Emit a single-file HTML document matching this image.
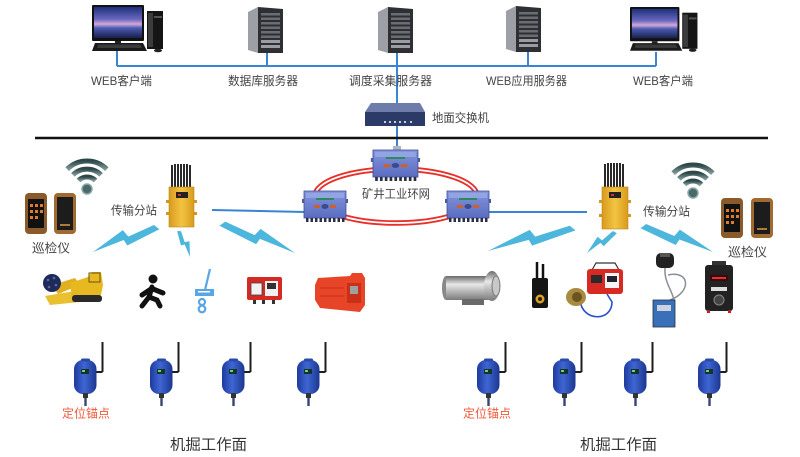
<!DOCTYPE html>
<html>
<head>
<meta charset="utf-8">
<style>
html,body{margin:0;padding:0;background:#fff;}
svg{display:block;}
text{font-family:"Liberation Sans","Noto Sans CJK SC",sans-serif;}
</style>
</head>
<body>
<svg width="800" height="457" viewBox="0 0 800 457" xmlns="http://www.w3.org/2000/svg">
<defs>
  <linearGradient id="scr" x1="0" y1="0" x2="0" y2="1">
    <stop offset="0" stop-color="#1d2f7a"/>
    <stop offset="0.4" stop-color="#6a68c0"/>
    <stop offset="0.55" stop-color="#d4a8d8"/>
    <stop offset="0.68" stop-color="#4a5ab0"/>
    <stop offset="1" stop-color="#18204a"/>
  </linearGradient>
  <linearGradient id="ylw" x1="0" y1="0" x2="1" y2="0">
    <stop offset="0" stop-color="#d99a1e"/>
    <stop offset="0.5" stop-color="#f3c442"/>
    <stop offset="1" stop-color="#d99a1e"/>
  </linearGradient>
  <linearGradient id="nodeG" x1="0" y1="0" x2="0" y2="1">
    <stop offset="0" stop-color="#8496dc"/>
    <stop offset="1" stop-color="#5a6cc0"/>
  </linearGradient>
  <linearGradient id="anc" x1="0" y1="0" x2="1" y2="0">
    <stop offset="0" stop-color="#1e3a9c"/>
    <stop offset="0.45" stop-color="#3f66d4"/>
    <stop offset="1" stop-color="#1c3690"/>
  </linearGradient>
  <linearGradient id="wifi" x1="0" y1="0" x2="0" y2="1">
    <stop offset="0" stop-color="#2e4848"/>
    <stop offset="1" stop-color="#7c9898"/>
  </linearGradient>
  <linearGradient id="silver" x1="0" y1="0" x2="0" y2="1">
    <stop offset="0" stop-color="#6a6a6a"/>
    <stop offset="0.35" stop-color="#e8e8e8"/>
    <stop offset="1" stop-color="#7a7a7a"/>
  </linearGradient>
  <polygon id="bolt" points="-2,3 3,-3 44,-1.5 48,-9.5 100,0 52,0 50,6.4" fill="#4cb6dc"/>

  <g id="computer">
    <rect x="0" y="0" width="52" height="36" rx="1" fill="#111"/>
    <rect x="2" y="2" width="48" height="31" fill="url(#scr)"/>
    <rect x="23" y="36" width="6" height="3" fill="#222"/>
    <polygon points="3,38 51,38 55,46 0,46" fill="#1b1b1b"/>
    <polygon points="6,39.5 48,39.5 50,43 5,43" fill="#3a3a3a"/>
    <rect x="55" y="6" width="16" height="38" fill="#151515"/>
    <rect x="56" y="8" width="5" height="34" fill="#3c3c3c"/>
    <rect x="62" y="11" width="8" height="2" fill="#555"/>
    <ellipse cx="66" cy="45.5" rx="4" ry="1.8" fill="#222"/>
  </g>

  <g id="server">
    <polygon points="0,5 10,0 10,46 0,43" fill="#9ca0a6"/>
    <polygon points="10,0 35,2 35,46 10,46" fill="#2d2f33"/>
    <rect x="13" y="6" width="19" height="2.5" fill="#6a6e74"/>
    <rect x="13" y="10.5" width="19" height="2.5" fill="#6a6e74"/>
    <rect x="13" y="15" width="19" height="2.5" fill="#6a6e74"/>
    <rect x="13" y="19.5" width="19" height="2.5" fill="#6a6e74"/>
    <rect x="13" y="24" width="19" height="2.5" fill="#6a6e74"/>
    <rect x="13" y="28.5" width="19" height="2.5" fill="#6a6e74"/>
    <rect x="13" y="33" width="19" height="3" fill="#9a9ea4"/>
    <rect x="13" y="38" width="19" height="3" fill="#9a9ea4"/>
  </g>

  <g id="node">
    <rect x="0" y="0" width="42" height="27" fill="url(#nodeG)" stroke="#3e4f98" stroke-width="0.8"/>
    <rect x="2" y="2" width="38" height="5" fill="#93a4e2"/>
    <rect x="12" y="7" width="18" height="2" fill="#2a8a5a"/>
    <rect x="10" y="14" width="6" height="3" fill="#d0602a"/>
    <rect x="26" y="14" width="6" height="3" fill="#d0602a"/>
    <ellipse cx="21" cy="15.5" rx="3.5" ry="2.5" fill="#3a4a8a"/>
    <rect x="-2" y="8" width="2" height="4" fill="#4a5aa0"/>
    <rect x="42" y="8" width="2" height="4" fill="#4a5aa0"/>
    <g fill="#2a2e44">
      <rect x="2" y="27" width="2.5" height="4"/><rect x="6.5" y="27" width="2.5" height="4"/>
      <rect x="11" y="27" width="2.5" height="4"/><rect x="15.5" y="27" width="2.5" height="4"/>
      <rect x="20" y="27" width="2.5" height="4"/><rect x="24.5" y="27" width="2.5" height="4"/>
      <rect x="29" y="27" width="2.5" height="4"/><rect x="33.5" y="27" width="2.5" height="4"/>
      <rect x="38" y="27" width="2.5" height="4"/>
    </g>
  </g>

  <g id="anchor">
    <line x1="28.5" y1="-18" x2="28.5" y2="12" stroke="#1e1e1e" stroke-width="2"/>
    <line x1="28.5" y1="12" x2="21" y2="12" stroke="#1e1e1e" stroke-width="2"/>
    <rect x="0" y="0" width="22.5" height="34" rx="9" fill="url(#anc)"/>
    <rect x="7" y="-1.5" width="9" height="3" rx="1.5" fill="#2a4aa8"/>
    <rect x="7" y="9" width="8" height="5" fill="#16352a"/>
    <rect x="8" y="10" width="3" height="2" fill="#6ad07a"/>
    <rect x="9" y="33" width="5" height="5" fill="#333"/>
    <rect x="10.3" y="38" width="2.4" height="8" fill="#3a4470"/>
  </g>

  <g id="wifiIcon" fill="none" stroke="url(#wifi)" stroke-width="5">
    <path d="M -19.8,-19.8 A 28 28 0 0 1 19.8,-19.8"/>
    <path d="M -14.1,-14.1 A 20 20 0 0 1 14.1,-14.1"/>
    <path d="M -8.5,-8.5 A 12 12 0 0 1 8.5,-8.5" />
    <circle cx="0" cy="0" r="5" fill="#4a6a6a" stroke="#8aa" stroke-width="1.5"/>
  </g>
</defs>

<!-- top network line -->
<g stroke="#3a84d4" stroke-width="2" fill="none">
  <line x1="117" y1="66" x2="656" y2="66"/>
  <line x1="117" y1="50" x2="117" y2="66"/>
  <line x1="267" y1="52" x2="267" y2="66"/>
  <line x1="397" y1="52" x2="397" y2="104"/>
  <line x1="528" y1="50" x2="528" y2="66"/>
  <line x1="656" y1="52" x2="656" y2="66"/>
  <line x1="397" y1="126" x2="397" y2="150"/>
  <line x1="212" y1="210" x2="305" y2="212"/>
  <line x1="488" y1="212" x2="587" y2="212"/>
</g>

<!-- computers & servers -->
<use href="#computer" x="92" y="5"/>
<g transform="translate(630,7) scale(0.95)"><use href="#computer"/></g>
<use href="#server" x="248" y="7"/>
<use href="#server" x="378" y="7"/>
<use href="#server" x="506" y="6"/>

<!-- top labels -->
<g fill="#444" font-size="12">
  <text x="91" y="85" textLength="61" lengthAdjust="spacingAndGlyphs">WEB客户端</text>
  <text x="228" y="85" textLength="70" lengthAdjust="spacingAndGlyphs">数据库服务器</text>
  <text x="349" y="85" textLength="83" lengthAdjust="spacingAndGlyphs">调度采集服务器</text>
  <text x="486" y="85" textLength="81" lengthAdjust="spacingAndGlyphs">WEB应用服务器</text>
  <text x="633" y="85" textLength="60" lengthAdjust="spacingAndGlyphs">WEB客户端</text>
  <text x="432" y="122" textLength="57" lengthAdjust="spacingAndGlyphs">地面交换机</text>
</g>

<!-- switch -->
<polygon points="371,103 420,103 425,112 365,112" fill="#6d7caa"/>
<rect x="365" y="112" width="60" height="14" fill="#2b3a66"/>
<g fill="#c8d0e0">
  <rect x="384" y="121" width="2" height="2"/><rect x="389" y="121" width="2" height="2"/>
  <rect x="394" y="121" width="2" height="2"/><rect x="399" y="121" width="2" height="2"/>
  <rect x="404" y="121" width="2" height="2"/><rect x="410" y="121" width="2" height="2"/>
</g>

<!-- black divider -->
<line x1="35" y1="138" x2="768" y2="138" stroke="#111" stroke-width="2.5"/>

<!-- ring -->
<ellipse cx="396" cy="196" rx="81" ry="27" fill="none" stroke="#e8302a" stroke-width="5.5"/>
<ellipse cx="396" cy="196" rx="81" ry="27" fill="none" stroke="#fff" stroke-width="1.8"/>
<rect x="393" y="146" width="8" height="4" fill="#b0b4bc"/>
<g transform="translate(373,150) scale(1.07,1)"><use href="#node"/></g>
<use href="#node" x="304" y="191"/>
<use href="#node" x="447" y="191"/>
<text x="362" y="198" fill="#444" font-size="12" textLength="68" lengthAdjust="spacingAndGlyphs">矿井工业环网</text>

<!-- stations -->
<g stroke="#111" stroke-width="1.8">
  <line x1="172" y1="165" x2="172" y2="188"/><line x1="175" y1="164" x2="175" y2="188"/>
  <line x1="178" y1="164" x2="178" y2="188"/><line x1="181" y1="164" x2="181" y2="188"/>
  <line x1="184" y1="164" x2="184" y2="188"/><line x1="187" y1="164" x2="187" y2="188"/>
  <line x1="190" y1="165" x2="190" y2="188"/>
  <line x1="605" y1="164" x2="605" y2="188"/><line x1="608" y1="163" x2="608" y2="188"/>
  <line x1="611" y1="163" x2="611" y2="188"/><line x1="614" y1="163" x2="614" y2="188"/>
  <line x1="617" y1="163" x2="617" y2="188"/><line x1="620" y1="163" x2="620" y2="188"/>
  <line x1="623" y1="164" x2="623" y2="188"/>
</g>
<rect x="169" y="187" width="25" height="40" fill="url(#ylw)" stroke="#b88a18" stroke-width="0.6"/>
<rect x="176" y="192" width="12" height="6" fill="#222"/><rect x="178" y="194" width="3" height="2" fill="#d03030"/>
<g fill="#d09820"><rect x="166" y="200" width="3" height="3"/><rect x="166" y="212" width="3" height="3"/><rect x="194" y="200" width="3" height="3"/><rect x="194" y="212" width="3" height="3"/></g>
<rect x="602" y="187" width="26" height="42" fill="url(#ylw)" stroke="#b88a18" stroke-width="0.6"/>
<rect x="609" y="192" width="12" height="6" fill="#222"/><rect x="611" y="194" width="3" height="2" fill="#d03030"/>
<g fill="#d09820"><rect x="599" y="200" width="3" height="3"/><rect x="599" y="214" width="3" height="3"/><rect x="628" y="200" width="3" height="3"/><rect x="628" y="214" width="3" height="3"/></g>

<g fill="#444" font-size="12">
  <text x="111" y="214.5" textLength="46" lengthAdjust="spacingAndGlyphs">传输分站</text>
  <text x="643" y="215.5" textLength="47" lengthAdjust="spacingAndGlyphs">传输分站</text>
  <text x="32" y="252.5" font-size="12.5" textLength="38" lengthAdjust="spacingAndGlyphs">巡检仪</text>
  <text x="728" y="256.5" font-size="12.5" textLength="39" lengthAdjust="spacingAndGlyphs">巡检仪</text>
</g>

<!-- wifi -->
<use href="#wifiIcon" x="87" y="189"/>
<use href="#wifiIcon" x="693" y="193"/>

<!-- phones -->
<g>
  <rect x="25" y="193" width="22" height="41" rx="4" fill="#8a5a2a"/>
  <rect x="28" y="199" width="16" height="29" fill="#111"/>
  <g fill="#e07a2a">
    <rect x="30" y="204" width="3" height="3"/><rect x="35" y="204" width="3" height="3"/><rect x="40" y="204" width="3" height="3"/>
    <rect x="30" y="210" width="3" height="3"/><rect x="35" y="210" width="3" height="3"/><rect x="40" y="210" width="3" height="3"/>
    <rect x="30" y="216" width="3" height="3"/><rect x="35" y="216" width="3" height="3"/>
  </g>
  <rect x="54" y="193" width="22" height="41" rx="4" fill="#a06a30"/>
  <rect x="57" y="197" width="16" height="33" fill="#1c1c1c"/>
  <rect x="60" y="224" width="10" height="2" fill="#b07a3a"/>

  <rect x="721" y="198" width="22" height="40" rx="4" fill="#8a5a2a"/>
  <rect x="724" y="204" width="16" height="28" fill="#111"/>
  <g fill="#e07a2a">
    <rect x="726" y="209" width="3" height="3"/><rect x="731" y="209" width="3" height="3"/><rect x="736" y="209" width="3" height="3"/>
    <rect x="726" y="215" width="3" height="3"/><rect x="731" y="215" width="3" height="3"/><rect x="736" y="215" width="3" height="3"/>
    <rect x="726" y="221" width="3" height="3"/><rect x="731" y="221" width="3" height="3"/>
  </g>
  <rect x="751" y="198" width="22" height="40" rx="4" fill="#a06a30"/>
  <rect x="754" y="202" width="16" height="32" fill="#1c1c1c"/>
  <rect x="757" y="228" width="10" height="2" fill="#b07a3a"/>
</g>

<!-- lightning bolts -->
<g transform="translate(157,227) rotate(158.7) scale(0.687,-1)"><use href="#bolt"/></g>
<g transform="translate(179,231) rotate(67.1) scale(0.282,0.6)"><use href="#bolt"/></g>
<g transform="translate(222,223.5) rotate(22) scale(0.787,1)"><use href="#bolt"/></g>
<g transform="translate(573,228) rotate(164.9) scale(0.881,-1)"><use href="#bolt"/></g>
<g transform="translate(615,232) rotate(143.1) scale(0.35,-0.7)"><use href="#bolt"/></g>
<g transform="translate(643,226) rotate(20.4) scale(0.747,1)"><use href="#bolt"/></g>

<!-- left devices -->
<!-- roadheader -->
<polygon points="45,296 75,291 80,302 50,305" fill="#e8c030"/>
<polygon points="52,285 75,278 80,285 58,294" fill="#e0b020"/>
<polygon points="70,283 88,277 92,272 101,272 103,285 101,295 72,298" fill="#e8b820"/>
<rect x="89" y="273" width="11" height="9" fill="none" stroke="#6a5010" stroke-width="1"/>
<rect x="72" y="295" width="30" height="7" rx="3" fill="#2a2a2a"/>
<circle cx="52" cy="283" r="9" fill="#1e2a5a"/>
<g fill="#5a6aa0"><circle cx="48" cy="280" r="1.3"/><circle cx="54" cy="278" r="1.3"/><circle cx="56" cy="285" r="1.3"/><circle cx="49" cy="287" r="1.3"/></g>
<!-- person -->
<circle cx="153" cy="279" r="4.5" fill="#111"/>
<g stroke="#111" stroke-width="5" stroke-linecap="round" fill="none">
  <path d="M152,287 L149,297"/>
  <path d="M151,289 L142,295"/>
  <path d="M153,289 L163,293"/>
  <path d="M149,297 L142,306"/>
  <path d="M149,297 L157,300 L160,306"/>
</g>
<!-- blue hook -->
<g stroke="#5aa5e5" fill="none" stroke-width="2.2">
  <line x1="210" y1="269" x2="205" y2="290"/>
  <circle cx="202" cy="302" r="3"/>
  <circle cx="202" cy="309" r="3.3"/>
</g>
<rect x="195" y="289" width="19" height="7" fill="#5aa5e5"/>
<rect x="198" y="291" width="12" height="1.5" fill="#fff"/>
<!-- red box -->
<rect x="247" y="277" width="35" height="23" rx="2" fill="#d42a22"/>
<rect x="251" y="283" width="11" height="12" fill="#f2f2f2" stroke="#444" stroke-width="0.8"/>
<rect x="265" y="281" width="13" height="15" fill="#f0f0f0"/>
<rect x="267" y="283" width="9" height="6" fill="#333"/>
<g fill="#333"><rect x="253" y="300" width="3" height="4"/><rect x="262" y="300" width="3" height="4"/><rect x="272" y="300" width="3" height="4"/></g>
<!-- locomotive -->
<polygon points="315,285 318,278 350,276 352,273 362,273 365,278 365,305 360,312 320,308 315,300" fill="#e84428"/>
<rect x="347" y="283" width="14" height="20" fill="#c83018"/>
<rect x="350" y="286" width="8" height="8" fill="#a0a0a0"/>
<g stroke="#c83018" stroke-width="1"><line x1="320" y1="288" x2="344" y2="288"/><line x1="320" y1="296" x2="344" y2="296"/></g>

<!-- right devices -->
<!-- camera -->
<ellipse cx="446" cy="288" rx="4" ry="12" fill="#888"/>
<rect x="446" y="276" width="44" height="24" fill="url(#silver)"/>
<ellipse cx="492" cy="286" rx="8" ry="15" fill="url(#silver)"/>
<ellipse cx="496" cy="286" rx="4" ry="10" fill="#c8c8c8" stroke="#777" stroke-width="1"/>
<rect x="462" y="299" width="22" height="6" fill="#6a6a6a"/>
<!-- radio -->
<g stroke="#111" stroke-width="2.5"><line x1="537" y1="262" x2="537" y2="280"/><line x1="543" y1="264" x2="543" y2="280"/></g>
<rect x="532" y="278" width="16" height="30" rx="2" fill="#151515"/>
<circle cx="540" cy="299" r="4.5" fill="#e0a020"/>
<circle cx="540" cy="299" r="2" fill="#222"/>
<!-- red device with sensor -->
<path d="M592,270 L596,263 L615,263 L619,270" fill="none" stroke="#333" stroke-width="1.2"/>
<rect x="587" y="269" width="36" height="25" rx="3" fill="#d82a22"/>
<rect x="591" y="275" width="11" height="8" fill="#2a2a2a"/>
<rect x="605" y="273" width="14" height="15" fill="#f4f4f4"/>
<rect x="607" y="276" width="10" height="6" fill="#223"/>
<path d="M580,300 C582,322 612,322 612,302 L607,294" fill="none" stroke="#2a50c8" stroke-width="1.6"/>
<ellipse cx="576" cy="297" rx="10" ry="9" fill="#a88a40"/>
<ellipse cx="577" cy="297" rx="5" ry="5" fill="#6a5520"/>
<!-- sensor with blue box -->
<rect x="656" y="253" width="18" height="15" rx="5" fill="#222"/>
<rect x="660" y="253" width="10" height="4" fill="#555"/>
<path d="M665,268 C664,282 672,290 674,300 M668,275 C690,270 692,292 670,300" fill="none" stroke="#8a8e96" stroke-width="1.5"/>
<rect x="653" y="300" width="22" height="27" fill="#3a70b8" stroke="#234" stroke-width="0.8"/>
<rect x="657" y="305" width="14" height="6" fill="#cdd4e0"/>
<!-- black device -->
<rect x="712" y="261" width="14" height="4" fill="#333"/>
<rect x="705" y="265" width="28" height="46" rx="3" fill="#222"/>
<rect x="710" y="275" width="18" height="6" fill="#3a0a0a"/>
<rect x="712" y="277" width="14" height="2" fill="#e03030"/>
<rect x="711" y="287" width="16" height="4" fill="#ddd"/>
<circle cx="719" cy="300" r="5" fill="#444" stroke="#888" stroke-width="1"/>
<g fill="#c02020"><rect x="707" y="310" width="3" height="3"/><rect x="728" y="310" width="3" height="3"/></g>

<!-- anchors -->
<use href="#anchor" x="74" y="360"/>
<use href="#anchor" x="150" y="360"/>
<use href="#anchor" x="222" y="360"/>
<use href="#anchor" x="297" y="360"/>
<use href="#anchor" x="477" y="360"/>
<use href="#anchor" x="553" y="360"/>
<use href="#anchor" x="624" y="360"/>
<use href="#anchor" x="698" y="360"/>

<!-- bottom labels -->
<g fill="#f05a3c" font-size="12">
  <text x="62" y="417.5" textLength="48" lengthAdjust="spacingAndGlyphs">定位锚点</text>
  <text x="463" y="417.5" textLength="48" lengthAdjust="spacingAndGlyphs">定位锚点</text>
</g>
<g fill="#333" font-size="15">
  <text x="170" y="449.5" textLength="77" lengthAdjust="spacingAndGlyphs">机掘工作面</text>
  <text x="580" y="449.5" textLength="77" lengthAdjust="spacingAndGlyphs">机掘工作面</text>
</g>
</svg>
</body>
</html>
